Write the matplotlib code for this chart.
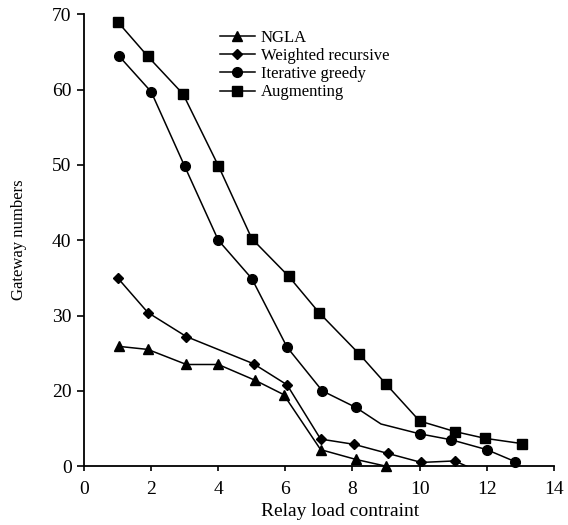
import matplotlib
matplotlib.use('Agg')
import matplotlib.pyplot as plt

plt.rcParams['font.family'] = ['Liberation Serif', 'DejaVu Serif']

# values (linear y scale; the bottom tick at 10 is labelled "0")
ngla_x = [1.05, 1.9, 3.05, 4.0, 5.1, 5.95, 7.05, 8.1, 9.0]
ngla_y = [25.9, 25.5, 23.5, 23.5, 21.4, 19.5, 12.2, 10.9, 10.0]

wr_x = [1.0, 1.9, 3.05, 5.05, 6.05, 7.05, 8.05, 9.05, 10.05, 11.05, 12.0]
wr_y = [35.0, 30.4, 27.2, 23.6, 20.8, 13.6, 12.9, 11.7, 10.5, 10.7, 8.8]

ig_x = [1.05, 2.0, 3.0, 4.0, 5.0, 6.05, 7.1, 8.1, 8.85, 10.0, 10.95, 12.0, 12.85]
ig_y = [64.4, 59.7, 49.8, 40.0, 34.9, 25.8, 20.0, 17.8, 15.6, 14.3, 13.5, 12.2, 10.6]
ig_marked = [0, 1, 2, 3, 4, 5, 6, 7, 9, 10, 11, 12]

aug_x = [1.0, 1.9, 2.95, 4.0, 5.0, 6.1, 7.0, 8.2, 9.0, 10.0, 11.05, 11.95, 13.05]
aug_y = [69.0, 64.4, 59.4, 49.9, 40.2, 35.2, 30.4, 24.9, 20.9, 16.0, 14.6, 13.7, 13.0]

y_ticks = [10, 20, 30, 40, 50, 60, 70]
y_tick_labels = ['0', '20', '30', '40', '50', '60', '70']
x_ticks = [0, 2, 4, 6, 8, 10, 12, 14]

fig = plt.figure(figsize=(5.68, 5.25), dpi=100)
ax = fig.add_axes([0.148, 0.112, 0.827, 0.861])

lw = 1.1
ax.plot(ngla_x, ngla_y, color='black', lw=lw, marker='^', ms=7.5,
        label='NGLA', clip_on=False, zorder=3)
ax.plot(wr_x, wr_y, color='black', lw=lw, marker='D', ms=5.5,
        label='Weighted recursive', zorder=3)
ax.plot(ig_x, ig_y, color='black', lw=lw, marker='o', ms=7,
        markevery=ig_marked, label='Iterative greedy', clip_on=False, zorder=3)
ax.plot(aug_x, aug_y, color='black', lw=lw, marker='s', ms=7.5,
        label='Augmenting', clip_on=False, zorder=3)

ax.set_xlim(0, 14)
ax.set_ylim(10, 70)
ax.set_xticks(x_ticks)
ax.set_yticks(y_ticks)
ax.set_yticklabels(y_tick_labels)

for side in ['top', 'right']:
    ax.spines[side].set_visible(False)
for side in ['left', 'bottom']:
    ax.spines[side].set_linewidth(1.3)
ax.tick_params(axis='x', direction='out', length=3.5, width=1.2, labelsize=14, pad=7)
ax.tick_params(axis='y', direction='out', length=5, width=1.2, labelsize=14, pad=4)

ax.set_xlabel('Relay load contraint', fontsize=14)
ax.xaxis.set_label_coords(0.545, -0.082)
ax.set_ylabel('Gateway numbers', fontsize=12)
ax.yaxis.set_label_coords(-0.122, 0.5)

ax.legend(loc='upper left', bbox_to_anchor=(0.289, 0.965), frameon=False,
          fontsize=12, handlelength=2.1, handletextpad=0.36, labelspacing=0.13,
          borderpad=0, borderaxespad=0)

fig.savefig('out.png', dpi=100)
